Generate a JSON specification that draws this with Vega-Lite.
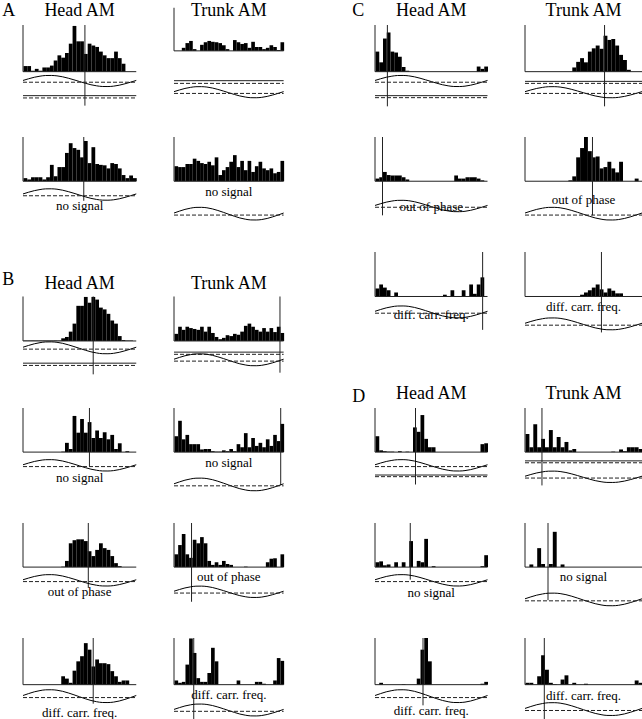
{
"$schema":"https://vega.github.io/schema/vega-lite/v6.json",
"padding":{"left":2,"top":1,"right":0,"bottom":0},
"autosize":{"type":"pad"},
"data":{"values":[{}]},
"datasets":{
"sine":[{"x":0,"s":0.1},{"x":1.5,"s":0.4},{"x":3,"s":0.67},{"x":4.5,"s":0.86},{"x":6,"s":0.98},{"x":7.5,"s":0.99},{"x":9,"s":0.92},{"x":10.5,"s":0.75},{"x":12,"s":0.5},{"x":13.5,"s":0.21},{"x":15,"s":-0.1},{"x":16.5,"s":-0.4},{"x":18,"s":-0.67},{"x":19.5,"s":-0.86},{"x":21,"s":-0.98},{"x":22.5,"s":-0.99},{"x":24,"s":-0.92},{"x":25.5,"s":-0.75},{"x":27,"s":-0.5},{"x":28.5,"s":-0.21},{"x":30,"s":0.1}],
"h":[
{"c":"A1h","b":0,"n":12},{"c":"A1h","b":1,"n":12},{"c":"A1h","b":2,"n":2},{"c":"A1h","b":3,"n":6},{"c":"A1h","b":4,"n":2},{"c":"A1h","b":5,"n":9},{"c":"A1h","b":6,"n":9},{"c":"A1h","b":7,"n":13},{"c":"A1h","b":8,"n":24},{"c":"A1h","b":9,"n":35},{"c":"A1h","b":10,"n":30},{"c":"A1h","b":11,"n":40},{"c":"A1h","b":12,"n":60},{"c":"A1h","b":13,"n":98},{"c":"A1h","b":14,"n":65},{"c":"A1h","b":15,"n":65},{"c":"A1h","b":16,"n":38},{"c":"A1h","b":17,"n":60},{"c":"A1h","b":18,"n":56},{"c":"A1h","b":19,"n":53},{"c":"A1h","b":20,"n":43},{"c":"A1h","b":21,"n":35},{"c":"A1h","b":22,"n":29},{"c":"A1h","b":23,"n":29},{"c":"A1h","b":24,"n":43},{"c":"A1h","b":25,"n":29},{"c":"A1h","b":26,"n":17},
{"c":"A1t","b":2,"n":7},{"c":"A1t","b":3,"n":18},{"c":"A1t","b":4,"n":23},{"c":"A1t","b":5,"n":4},{"c":"A1t","b":7,"n":14},{"c":"A1t","b":8,"n":20},{"c":"A1t","b":9,"n":23},{"c":"A1t","b":10,"n":21},{"c":"A1t","b":11,"n":20},{"c":"A1t","b":12,"n":18},{"c":"A1t","b":13,"n":13},{"c":"A1t","b":14,"n":4},{"c":"A1t","b":16,"n":25},{"c":"A1t","b":17,"n":20},{"c":"A1t","b":18,"n":16},{"c":"A1t","b":19,"n":18},{"c":"A1t","b":20,"n":7},{"c":"A1t","b":21,"n":21},{"c":"A1t","b":22,"n":9},{"c":"A1t","b":23,"n":9},{"c":"A1t","b":24,"n":4},{"c":"A1t","b":25,"n":7},{"c":"A1t","b":26,"n":13},{"c":"A1t","b":27,"n":9},{"c":"A1t","b":28,"n":2},{"c":"A1t","b":29,"n":20},
{"c":"A2h","b":0,"n":7},{"c":"A2h","b":1,"n":4},{"c":"A2h","b":2,"n":9},{"c":"A2h","b":3,"n":9},{"c":"A2h","b":4,"n":9},{"c":"A2h","b":5,"n":4},{"c":"A2h","b":6,"n":9},{"c":"A2h","b":7,"n":37},{"c":"A2h","b":8,"n":11},{"c":"A2h","b":9,"n":32},{"c":"A2h","b":10,"n":32},{"c":"A2h","b":11,"n":64},{"c":"A2h","b":12,"n":86},{"c":"A2h","b":13,"n":75},{"c":"A2h","b":14,"n":71},{"c":"A2h","b":15,"n":54},{"c":"A2h","b":16,"n":91},{"c":"A2h","b":17,"n":41},{"c":"A2h","b":18,"n":77},{"c":"A2h","b":19,"n":39},{"c":"A2h","b":20,"n":37},{"c":"A2h","b":21,"n":36},{"c":"A2h","b":22,"n":29},{"c":"A2h","b":23,"n":41},{"c":"A2h","b":24,"n":39},{"c":"A2h","b":25,"n":29},{"c":"A2h","b":26,"n":14},{"c":"A2h","b":27,"n":7},{"c":"A2h","b":28,"n":13},{"c":"A2h","b":29,"n":7},
{"c":"A2t","b":0,"n":34},{"c":"A2t","b":1,"n":32},{"c":"A2t","b":2,"n":32},{"c":"A2t","b":3,"n":39},{"c":"A2t","b":4,"n":39},{"c":"A2t","b":5,"n":51},{"c":"A2t","b":6,"n":46},{"c":"A2t","b":7,"n":41},{"c":"A2t","b":8,"n":39},{"c":"A2t","b":9,"n":44},{"c":"A2t","b":10,"n":36},{"c":"A2t","b":11,"n":54},{"c":"A2t","b":12,"n":14},{"c":"A2t","b":13,"n":25},{"c":"A2t","b":14,"n":32},{"c":"A2t","b":15,"n":44},{"c":"A2t","b":16,"n":59},{"c":"A2t","b":17,"n":32},{"c":"A2t","b":18,"n":46},{"c":"A2t","b":19,"n":25},{"c":"A2t","b":20,"n":46},{"c":"A2t","b":21,"n":21},{"c":"A2t","b":22,"n":34},{"c":"A2t","b":23,"n":44},{"c":"A2t","b":24,"n":29},{"c":"A2t","b":25,"n":25},{"c":"A2t","b":26,"n":29},{"c":"A2t","b":27,"n":18},{"c":"A2t","b":28,"n":21},{"c":"A2t","b":29,"n":46},
{"c":"B1h","b":0,"n":1},{"c":"B1h","b":1,"n":1},{"c":"B1h","b":2,"n":1},{"c":"B1h","b":3,"n":1},{"c":"B1h","b":4,"n":1},{"c":"B1h","b":5,"n":1},{"c":"B1h","b":6,"n":1},{"c":"B1h","b":7,"n":1},{"c":"B1h","b":8,"n":1},{"c":"B1h","b":9,"n":1},{"c":"B1h","b":10,"n":6},{"c":"B1h","b":11,"n":9},{"c":"B1h","b":12,"n":21},{"c":"B1h","b":13,"n":39},{"c":"B1h","b":14,"n":79},{"c":"B1h","b":15,"n":79},{"c":"B1h","b":16,"n":99},{"c":"B1h","b":17,"n":86},{"c":"B1h","b":18,"n":99},{"c":"B1h","b":19,"n":93},{"c":"B1h","b":20,"n":75},{"c":"B1h","b":21,"n":71},{"c":"B1h","b":22,"n":61},{"c":"B1h","b":23,"n":46},{"c":"B1h","b":24,"n":39},{"c":"B1h","b":25,"n":11},{"c":"B1h","b":26,"n":2},{"c":"B1h","b":27,"n":1},{"c":"B1h","b":28,"n":1},
{"c":"B1t","b":0,"n":16},{"c":"B1t","b":1,"n":32},{"c":"B1t","b":2,"n":25},{"c":"B1t","b":3,"n":32},{"c":"B1t","b":4,"n":29},{"c":"B1t","b":5,"n":27},{"c":"B1t","b":6,"n":25},{"c":"B1t","b":7,"n":32},{"c":"B1t","b":8,"n":21},{"c":"B1t","b":9,"n":32},{"c":"B1t","b":10,"n":18},{"c":"B1t","b":11,"n":9},{"c":"B1t","b":12,"n":4},{"c":"B1t","b":13,"n":7},{"c":"B1t","b":14,"n":13},{"c":"B1t","b":15,"n":11},{"c":"B1t","b":16,"n":16},{"c":"B1t","b":17,"n":14},{"c":"B1t","b":18,"n":21},{"c":"B1t","b":19,"n":34},{"c":"B1t","b":20,"n":39},{"c":"B1t","b":21,"n":32},{"c":"B1t","b":22,"n":25},{"c":"B1t","b":23,"n":21},{"c":"B1t","b":24,"n":29},{"c":"B1t","b":25,"n":21},{"c":"B1t","b":26,"n":29},{"c":"B1t","b":27,"n":20},{"c":"B1t","b":28,"n":32},{"c":"B1t","b":29,"n":18},
{"c":"B2h","b":10,"n":1},{"c":"B2h","b":11,"n":21},{"c":"B2h","b":12,"n":7},{"c":"B2h","b":13,"n":82},{"c":"B2h","b":14,"n":44},{"c":"B2h","b":15,"n":75},{"c":"B2h","b":16,"n":44},{"c":"B2h","b":17,"n":68},{"c":"B2h","b":18,"n":32},{"c":"B2h","b":19,"n":49},{"c":"B2h","b":20,"n":32},{"c":"B2h","b":21,"n":45},{"c":"B2h","b":22,"n":29},{"c":"B2h","b":23,"n":39},{"c":"B2h","b":24,"n":7},{"c":"B2h","b":25,"n":20},{"c":"B2h","b":27,"n":2},
{"c":"B2t","b":0,"n":36},{"c":"B2t","b":1,"n":71},{"c":"B2t","b":2,"n":29},{"c":"B2t","b":3,"n":39},{"c":"B2t","b":4,"n":18},{"c":"B2t","b":5,"n":18},{"c":"B2t","b":6,"n":18},{"c":"B2t","b":7,"n":6},{"c":"B2t","b":8,"n":7},{"c":"B2t","b":9,"n":7},{"c":"B2t","b":10,"n":2},{"c":"B2t","b":11,"n":1},{"c":"B2t","b":12,"n":1},{"c":"B2t","b":13,"n":4},{"c":"B2t","b":14,"n":2},{"c":"B2t","b":15,"n":7},{"c":"B2t","b":16,"n":2},{"c":"B2t","b":17,"n":18},{"c":"B2t","b":18,"n":11},{"c":"B2t","b":19,"n":43},{"c":"B2t","b":20,"n":11},{"c":"B2t","b":21,"n":32},{"c":"B2t","b":22,"n":14},{"c":"B2t","b":23,"n":21},{"c":"B2t","b":24,"n":11},{"c":"B2t","b":25,"n":29},{"c":"B2t","b":26,"n":14},{"c":"B2t","b":27,"n":39},{"c":"B2t","b":28,"n":25},{"c":"B2t","b":29,"n":64},
{"c":"B3h","b":10,"n":1},{"c":"B3h","b":11,"n":14},{"c":"B3h","b":12,"n":54},{"c":"B3h","b":13,"n":61},{"c":"B3h","b":14,"n":63},{"c":"B3h","b":15,"n":63},{"c":"B3h","b":16,"n":59},{"c":"B3h","b":17,"n":36},{"c":"B3h","b":18,"n":25},{"c":"B3h","b":19,"n":39},{"c":"B3h","b":20,"n":54},{"c":"B3h","b":21,"n":43},{"c":"B3h","b":22,"n":39},{"c":"B3h","b":23,"n":25},{"c":"B3h","b":24,"n":9},{"c":"B3h","b":25,"n":2},
{"c":"B3t","b":0,"n":29},{"c":"B3t","b":1,"n":50},{"c":"B3t","b":2,"n":75},{"c":"B3t","b":3,"n":29},{"c":"B3t","b":4,"n":21},{"c":"B3t","b":5,"n":62},{"c":"B3t","b":6,"n":54},{"c":"B3t","b":7,"n":68},{"c":"B3t","b":8,"n":54},{"c":"B3t","b":9,"n":14},{"c":"B3t","b":10,"n":5},{"c":"B3t","b":11,"n":11},{"c":"B3t","b":12,"n":5},{"c":"B3t","b":13,"n":14},{"c":"B3t","b":14,"n":7},{"c":"B3t","b":15,"n":5},{"c":"B3t","b":19,"n":1},{"c":"B3t","b":25,"n":11},{"c":"B3t","b":26,"n":19},{"c":"B3t","b":27,"n":20},{"c":"B3t","b":29,"n":29},
{"c":"B4h","b":10,"n":18},{"c":"B4h","b":11,"n":13},{"c":"B4h","b":12,"n":4},{"c":"B4h","b":13,"n":30},{"c":"B4h","b":14,"n":50},{"c":"B4h","b":15,"n":61},{"c":"B4h","b":16,"n":89},{"c":"B4h","b":17,"n":75},{"c":"B4h","b":18,"n":39},{"c":"B4h","b":19,"n":54},{"c":"B4h","b":20,"n":46},{"c":"B4h","b":21,"n":46},{"c":"B4h","b":22,"n":44},{"c":"B4h","b":23,"n":29},{"c":"B4h","b":24,"n":18},{"c":"B4h","b":25,"n":6},{"c":"B4h","b":26,"n":9},{"c":"B4h","b":27,"n":9},
{"c":"B4t","b":0,"n":9},{"c":"B4t","b":1,"n":4},{"c":"B4t","b":2,"n":6},{"c":"B4t","b":3,"n":43},{"c":"B4t","b":4,"n":99},{"c":"B4t","b":5,"n":68},{"c":"B4t","b":6,"n":14},{"c":"B4t","b":7,"n":6},{"c":"B4t","b":8,"n":6},{"c":"B4t","b":9,"n":25},{"c":"B4t","b":10,"n":79},{"c":"B4t","b":11,"n":50},{"c":"B4t","b":17,"n":9},{"c":"B4t","b":22,"n":6},{"c":"B4t","b":23,"n":6},{"c":"B4t","b":24,"n":2},{"c":"B4t","b":27,"n":9},{"c":"B4t","b":28,"n":57},{"c":"B4t","b":29,"n":51},
{"c":"C1h","b":0,"n":43},{"c":"C1h","b":1,"n":20},{"c":"C1h","b":2,"n":71},{"c":"C1h","b":3,"n":84},{"c":"C1h","b":4,"n":43},{"c":"C1h","b":5,"n":41},{"c":"C1h","b":6,"n":32},{"c":"C1h","b":7,"n":10},{"c":"C1h","b":8,"n":2},{"c":"C1h","b":27,"n":11},{"c":"C1h","b":28,"n":6},{"c":"C1h","b":29,"n":11},
{"c":"C1t","b":12,"n":9},{"c":"C1t","b":13,"n":21},{"c":"C1t","b":14,"n":29},{"c":"C1t","b":15,"n":20},{"c":"C1t","b":16,"n":43},{"c":"C1t","b":17,"n":50},{"c":"C1t","b":18,"n":56},{"c":"C1t","b":19,"n":49},{"c":"C1t","b":20,"n":77},{"c":"C1t","b":21,"n":68},{"c":"C1t","b":22,"n":70},{"c":"C1t","b":23,"n":56},{"c":"C1t","b":24,"n":36},{"c":"C1t","b":25,"n":25},{"c":"C1t","b":26,"n":4},
{"c":"C2h","b":0,"n":6},{"c":"C2h","b":1,"n":9},{"c":"C2h","b":2,"n":21},{"c":"C2h","b":3,"n":14},{"c":"C2h","b":4,"n":13},{"c":"C2h","b":5,"n":13},{"c":"C2h","b":6,"n":13},{"c":"C2h","b":7,"n":9},{"c":"C2h","b":8,"n":4},{"c":"C2h","b":21,"n":13},{"c":"C2h","b":22,"n":6},{"c":"C2h","b":23,"n":6},{"c":"C2h","b":24,"n":9},{"c":"C2h","b":25,"n":9},{"c":"C2h","b":26,"n":9},{"c":"C2h","b":27,"n":6},{"c":"C2h","b":28,"n":2},
{"c":"C2t","b":11,"n":2},{"c":"C2t","b":12,"n":11},{"c":"C2t","b":13,"n":54},{"c":"C2t","b":14,"n":75},{"c":"C2t","b":15,"n":100},{"c":"C2t","b":16,"n":68},{"c":"C2t","b":17,"n":54},{"c":"C2t","b":18,"n":56},{"c":"C2t","b":19,"n":29},{"c":"C2t","b":20,"n":32},{"c":"C2t","b":21,"n":44},{"c":"C2t","b":22,"n":29},{"c":"C2t","b":23,"n":20},{"c":"C2t","b":24,"n":44},{"c":"C2t","b":28,"n":6},
{"c":"C3h","b":0,"n":18},{"c":"C3h","b":1,"n":27},{"c":"C3h","b":2,"n":20},{"c":"C3h","b":3,"n":14},{"c":"C3h","b":5,"n":9},{"c":"C3h","b":18,"n":4},{"c":"C3h","b":20,"n":14},{"c":"C3h","b":23,"n":14},{"c":"C3h","b":25,"n":27},{"c":"C3h","b":26,"n":6},{"c":"C3h","b":27,"n":27},{"c":"C3h","b":28,"n":43},
{"c":"C3t","b":14,"n":4},{"c":"C3t","b":15,"n":9},{"c":"C3t","b":16,"n":14},{"c":"C3t","b":17,"n":20},{"c":"C3t","b":18,"n":27},{"c":"C3t","b":19,"n":16},{"c":"C3t","b":20,"n":9},{"c":"C3t","b":21,"n":18},{"c":"C3t","b":22,"n":13},{"c":"C3t","b":23,"n":7},{"c":"C3t","b":24,"n":7},
{"c":"D1h","b":0,"n":36},{"c":"D1h","b":1,"n":4},{"c":"D1h","b":2,"n":2},{"c":"D1h","b":3,"n":1},{"c":"D1h","b":4,"n":1},{"c":"D1h","b":6,"n":2},{"c":"D1h","b":8,"n":1},{"c":"D1h","b":10,"n":56},{"c":"D1h","b":11,"n":46},{"c":"D1h","b":12,"n":84},{"c":"D1h","b":13,"n":30},{"c":"D1h","b":14,"n":11},{"c":"D1h","b":15,"n":11},{"c":"D1h","b":28,"n":18},{"c":"D1h","b":29,"n":20},
{"c":"D1t","b":0,"n":41},{"c":"D1t","b":1,"n":11},{"c":"D1t","b":2,"n":63},{"c":"D1t","b":3,"n":11},{"c":"D1t","b":4,"n":30},{"c":"D1t","b":5,"n":11},{"c":"D1t","b":6,"n":50},{"c":"D1t","b":7,"n":11},{"c":"D1t","b":8,"n":34},{"c":"D1t","b":9,"n":11},{"c":"D1t","b":10,"n":23},{"c":"D1t","b":11,"n":4},{"c":"D1t","b":12,"n":7},{"c":"D1t","b":22,"n":1},{"c":"D1t","b":24,"n":6},{"c":"D1t","b":25,"n":2},{"c":"D1t","b":26,"n":11},{"c":"D1t","b":27,"n":11},{"c":"D1t","b":28,"n":11},{"c":"D1t","b":29,"n":7},
{"c":"D2h","b":0,"n":11},{"c":"D2h","b":1,"n":13},{"c":"D2h","b":2,"n":4},{"c":"D2h","b":3,"n":6},{"c":"D2h","b":5,"n":11},{"c":"D2h","b":7,"n":11},{"c":"D2h","b":9,"n":59},{"c":"D2h","b":11,"n":14},{"c":"D2h","b":12,"n":11},{"c":"D2h","b":13,"n":64},{"c":"D2h","b":15,"n":2},{"c":"D2h","b":28,"n":2},{"c":"D2h","b":29,"n":27},
{"c":"D2t","b":1,"n":6},{"c":"D2t","b":3,"n":43},{"c":"D2t","b":4,"n":7},{"c":"D2t","b":6,"n":7},{"c":"D2t","b":7,"n":80},{"c":"D2t","b":9,"n":6},
{"c":"D3h","b":1,"n":4},{"c":"D3h","b":7,"n":1},{"c":"D3h","b":11,"n":13},{"c":"D3h","b":12,"n":75},{"c":"D3h","b":13,"n":100},{"c":"D3h","b":14,"n":50},{"c":"D3h","b":28,"n":2},{"c":"D3h","b":29,"n":6},
{"c":"D3t","b":0,"n":4},{"c":"D3t","b":1,"n":4},{"c":"D3t","b":3,"n":18},{"c":"D3t","b":4,"n":63},{"c":"D3t","b":5,"n":32},{"c":"D3t","b":6,"n":4},{"c":"D3t","b":7,"n":1},{"c":"D3t","b":9,"n":11},{"c":"D3t","b":10,"n":20},{"c":"D3t","b":12,"n":4},{"c":"D3t","b":15,"n":2},{"c":"D3t","b":28,"n":9},{"c":"D3t","b":29,"n":4}
]},
"bounds":"flush",
"align":"each",
"spacing":0,
"columns":4,
"concat":[
{"width":151,"height":112,"layer":[{"layer":[
 {"data":{"name":"h"},"transform":[{"filter":"datum.c=='A1h'"}],"mark":"bar","encoding":{"x":{"field":"b","type":"quantitative","bin":{"binned":true,"step":1},"scale":{"domain":[0,38.72]},"axis":null},"y":{"field":"n","type":"quantitative","scale":{"domain":[-140,100]},"axis":null}}},
 {"mark":"rule","encoding":{"x":{"datum":0},"y":{"datum":0},"y2":{"datum":100}}},
 {"mark":"rule","encoding":{"x":{"datum":0},"x2":{"datum":30},"y":{"datum":0}}},
 {"mark":"rule","encoding":{"x":{"datum":16.4},"y":{"datum":100},"y2":{"datum":-72.8}}},
 {"mark":"rule","encoding":{"x":{"datum":0},"x2":{"datum":30},"y":{"datum":-51.4}}},
 {"mark":{"type":"rule","strokeDash":[4,2]},"encoding":{"x":{"datum":0},"x2":{"datum":30},"y":{"datum":-56.3}}},
 {"mark":{"type":"text","text":"Head AM","fontSize":18},"encoding":{"x":{"datum":15},"y":{"datum":119.3}}},
 {"mark":{"type":"text","text":"A","fontSize":18,"align":"left"},"encoding":{"x":{"datum":-5.5},"y":{"datum":119.3}}}]},
 {"layer":[{"data":{"name":"sine"},"mark":{"type":"line","interpolate":"monotone"},"encoding":{"x":{"field":"x","type":"quantitative"},"y":{"field":"s","type":"quantitative","scale":{"domain":[-8.03,8.69]},"axis":null}}},{"mark":{"type":"rule","strokeDash":[4,2]},"encoding":{"x":{"datum":0},"x2":{"datum":30},"y":{"datum":-0.22}}}]}
],"resolve":{"scale":{"y":"independent"}}},
{"width":201,"height":112,"layer":[
 {"layer":[
 {"data":{"name":"h"},"transform":[{"filter":"datum.c=='A1t'"}],"mark":"bar","encoding":{"x":{"field":"b","type":"quantitative","bin":{"binned":true,"step":1},"scale":{"domain":[0,51.54]},"axis":null},"y":{"field":"n","type":"quantitative","scale":{"domain":[-191.4,48.6]},"axis":null}}},
 {"mark":"rule","encoding":{"x":{"datum":0},"y":{"datum":0},"y2":{"datum":100}}},
 {"mark":"rule","encoding":{"x":{"datum":0},"x2":{"datum":30},"y":{"datum":0}}}]},
 {"layer":[
 {"mark":"rule","encoding":{"x":{"datum":0},"x2":{"datum":30},"y":{"datum":-19.3,"scale":{"domain":[-140,100]}}}},
 {"mark":{"type":"rule","strokeDash":[4,2]},"encoding":{"x":{"datum":0},"x2":{"datum":30},"y":{"datum":-25.1}}},
 {"mark":{"type":"text","text":"Trunk AM","fontSize":18},"encoding":{"x":{"datum":15},"y":{"datum":119.3}}}]},
 {"layer":[{"data":{"name":"sine"},"mark":{"type":"line","interpolate":"monotone"},"encoding":{"x":{"field":"x","type":"quantitative"},"y":{"field":"s","type":"quantitative","scale":{"domain":[-6.24,10.48]},"axis":null}}},{"mark":{"type":"rule","strokeDash":[4,2]},"encoding":{"x":{"datum":0},"x2":{"datum":30},"y":{"datum":-0.22}}}]}
],"resolve":{"scale":{"y":"independent"}}},
{"width":150,"height":112,"layer":[{"layer":[
 {"data":{"name":"h"},"transform":[{"filter":"datum.c=='C1h'"}],"mark":"bar","encoding":{"x":{"field":"b","type":"quantitative","bin":{"binned":true,"step":1},"scale":{"domain":[0,38.46]},"axis":null},"y":{"field":"n","type":"quantitative","scale":{"domain":[-140,100]},"axis":null}}},
 {"mark":"rule","encoding":{"x":{"datum":0},"y":{"datum":0},"y2":{"datum":100}}},
 {"mark":"rule","encoding":{"x":{"datum":0},"x2":{"datum":30},"y":{"datum":0}}},
 {"mark":"rule","encoding":{"x":{"datum":3.3},"y":{"datum":100},"y2":{"datum":-74.3}}},
 {"mark":"rule","encoding":{"x":{"datum":0},"x2":{"datum":30},"y":{"datum":-51.4}}},
 {"mark":{"type":"rule","strokeDash":[4,2]},"encoding":{"x":{"datum":0},"x2":{"datum":30},"y":{"datum":-55.7}}},
 {"mark":{"type":"text","text":"Head AM","fontSize":18},"encoding":{"x":{"datum":15},"y":{"datum":119.3}}},
 {"mark":{"type":"text","text":"C","fontSize":18,"align":"left"},"encoding":{"x":{"datum":-6.05},"y":{"datum":119.3}}}]},
 {"layer":[{"data":{"name":"sine"},"mark":{"type":"line","interpolate":"monotone"},"encoding":{"x":{"field":"x","type":"quantitative"},"y":{"field":"s","type":"quantitative","scale":{"domain":[-8.03,8.69]},"axis":null}}},{"mark":{"type":"rule","strokeDash":[4,2]},"encoding":{"x":{"datum":0},"x2":{"datum":30},"y":{"datum":-0.22}}}]}
],"resolve":{"scale":{"y":"independent"}}},
{"width":117,"height":112,"layer":[{"layer":[
 {"data":{"name":"h"},"transform":[{"filter":"datum.c=='C1t'"}],"mark":"bar","encoding":{"x":{"field":"b","type":"quantitative","bin":{"binned":true,"step":1},"scale":{"domain":[0,30]},"axis":null},"y":{"field":"n","type":"quantitative","scale":{"domain":[-140,100]},"axis":null}}},
 {"mark":"rule","encoding":{"x":{"datum":0},"y":{"datum":0},"y2":{"datum":100}}},
 {"mark":"rule","encoding":{"x":{"datum":0},"x2":{"datum":30},"y":{"datum":0}}},
 {"mark":"rule","encoding":{"x":{"datum":20.4},"y":{"datum":100},"y2":{"datum":-74.3}}},
 {"mark":"rule","encoding":{"x":{"datum":0},"x2":{"datum":30},"y":{"datum":-20.8}}},
 {"mark":{"type":"rule","strokeDash":[4,2]},"encoding":{"x":{"datum":0},"x2":{"datum":30},"y":{"datum":-25.1}}},
 {"mark":{"type":"text","text":"Trunk AM","fontSize":18},"encoding":{"x":{"datum":15},"y":{"datum":119.3}}}]},
 {"layer":[{"data":{"name":"sine"},"mark":{"type":"line","interpolate":"monotone"},"encoding":{"x":{"field":"x","type":"quantitative"},"y":{"field":"s","type":"quantitative","scale":{"domain":[-6.13,10.58]},"axis":null}}},{"mark":{"type":"rule","strokeDash":[4,2]},"encoding":{"x":{"datum":0},"x2":{"datum":30},"y":{"datum":-0.22}}}]}
],"resolve":{"scale":{"y":"independent"}}},

{"width":151,"height":115,"layer":[{"layer":[
 {"data":{"name":"h"},"transform":[{"filter":"datum.c=='A2h'"}],"mark":"bar","encoding":{"x":{"field":"b","type":"quantitative","bin":{"binned":true,"step":1},"scale":{"domain":[0,38.72]},"axis":null},"y":{"field":"n","type":"quantitative","scale":{"domain":[-146.4,100]},"axis":null}}},
 {"mark":"rule","encoding":{"x":{"datum":0},"y":{"datum":0},"y2":{"datum":100}}},
 {"mark":"rule","encoding":{"x":{"datum":0},"x2":{"datum":30},"y":{"datum":0}}},
 {"mark":"rule","encoding":{"x":{"datum":16.1},"y":{"datum":100},"y2":{"datum":-44.3}}},
 {"mark":{"type":"text","text":"no signal"},"encoding":{"x":{"datum":15},"y":{"datum":-65.8}}}]},
 {"layer":[{"data":{"name":"sine"},"mark":{"type":"line","interpolate":"monotone"},"encoding":{"x":{"field":"x","type":"quantitative"},"y":{"field":"s","type":"quantitative","scale":{"domain":[-8.33,8.84]},"axis":null}}},{"mark":{"type":"rule","strokeDash":[4,2]},"encoding":{"x":{"datum":0},"x2":{"datum":30},"y":{"datum":-0.22}}}]}
],"resolve":{"scale":{"y":"independent"}}},
{"width":201,"height":115,"layer":[{"layer":[
 {"data":{"name":"h"},"transform":[{"filter":"datum.c=='A2t'"}],"mark":"bar","encoding":{"x":{"field":"b","type":"quantitative","bin":{"binned":true,"step":1},"scale":{"domain":[0,51.54]},"axis":null},"y":{"field":"n","type":"quantitative","scale":{"domain":[-146.4,100]},"axis":null}}},
 {"mark":"rule","encoding":{"x":{"datum":0},"y":{"datum":0},"y2":{"datum":100}}},
 {"mark":"rule","encoding":{"x":{"datum":0},"x2":{"datum":30},"y":{"datum":0}}},
 {"mark":{"type":"text","text":"no signal"},"encoding":{"x":{"datum":15},"y":{"datum":-33.6}}}]},
 {"layer":[{"data":{"name":"sine"},"mark":{"type":"line","interpolate":"monotone"},"encoding":{"x":{"field":"x","type":"quantitative"},"y":{"field":"s","type":"quantitative","scale":{"domain":[-5.94,11.22]},"axis":null}}},{"mark":{"type":"rule","strokeDash":[4,2]},"encoding":{"x":{"datum":0},"x2":{"datum":30},"y":{"datum":-0.22}}}]}
],"resolve":{"scale":{"y":"independent"}}},
{"width":150,"height":115,"layer":[{"layer":[
 {"data":{"name":"h"},"transform":[{"filter":"datum.c=='C2h'"}],"mark":"bar","encoding":{"x":{"field":"b","type":"quantitative","bin":{"binned":true,"step":1},"scale":{"domain":[0,38.46]},"axis":null},"y":{"field":"n","type":"quantitative","scale":{"domain":[-146.4,100]},"axis":null}}},
 {"mark":"rule","encoding":{"x":{"datum":0},"y":{"datum":0},"y2":{"datum":100}}},
 {"mark":"rule","encoding":{"x":{"datum":0},"x2":{"datum":30},"y":{"datum":0}}},
 {"mark":"rule","encoding":{"x":{"datum":2},"y":{"datum":100},"y2":{"datum":-77.1}}},
 {"mark":{"type":"text","text":"out of phase"},"encoding":{"x":{"datum":15},"y":{"datum":-66.4}}}]},
 {"layer":[{"data":{"name":"sine"},"mark":{"type":"line","interpolate":"monotone"},"encoding":{"x":{"field":"x","type":"quantitative"},"y":{"field":"s","type":"quantitative","scale":{"domain":[-7.03,10.13]},"axis":null}}},{"mark":{"type":"rule","strokeDash":[4,2]},"encoding":{"x":{"datum":0},"x2":{"datum":30},"y":{"datum":-0.22}}}]}
],"resolve":{"scale":{"y":"independent"}}},
{"width":117,"height":115,"layer":[{"layer":[
 {"data":{"name":"h"},"transform":[{"filter":"datum.c=='C2t'"}],"mark":"bar","encoding":{"x":{"field":"b","type":"quantitative","bin":{"binned":true,"step":1},"scale":{"domain":[0,30]},"axis":null},"y":{"field":"n","type":"quantitative","scale":{"domain":[-146.4,100]},"axis":null}}},
 {"mark":"rule","encoding":{"x":{"datum":0},"y":{"datum":0},"y2":{"datum":100}}},
 {"mark":"rule","encoding":{"x":{"datum":0},"x2":{"datum":30},"y":{"datum":0}}},
 {"mark":"rule","encoding":{"x":{"datum":17.3},"y":{"datum":100},"y2":{"datum":-77.1}}},
 {"mark":{"type":"text","text":"out of phase"},"encoding":{"x":{"datum":15},"y":{"datum":-51.4}}}]},
 {"layer":[{"data":{"name":"sine"},"mark":{"type":"line","interpolate":"monotone"},"encoding":{"x":{"field":"x","type":"quantitative"},"y":{"field":"s","type":"quantitative","scale":{"domain":[-5.79,11.37]},"axis":null}}},{"mark":{"type":"rule","strokeDash":[4,2]},"encoding":{"x":{"datum":0},"x2":{"datum":30},"y":{"datum":-0.22}}}]}
],"resolve":{"scale":{"y":"independent"}}},

{"width":151,"height":155.7,"layer":[{"layer":[
 {"data":{"name":"h"},"transform":[{"filter":"datum.c=='B1h'"}],"mark":"bar","encoding":{"x":{"field":"b","type":"quantitative","bin":{"binned":true,"step":1},"scale":{"domain":[0,38.72]},"axis":null},"y":{"field":"n","type":"quantitative","scale":{"domain":[-145.1,188.5]},"axis":null}}},
 {"mark":"rule","encoding":{"x":{"datum":0},"y":{"datum":0},"y2":{"datum":100}}},
 {"mark":"rule","encoding":{"x":{"datum":0},"x2":{"datum":30},"y":{"datum":0}}},
 {"mark":"rule","encoding":{"x":{"datum":18.6},"y":{"datum":100},"y2":{"datum":-75}}},
 {"mark":"rule","encoding":{"x":{"datum":0},"x2":{"datum":30},"y":{"datum":-49.9}}},
 {"mark":{"type":"rule","strokeDash":[4,2]},"encoding":{"x":{"datum":0},"x2":{"datum":30},"y":{"datum":-55}}},
 {"mark":{"type":"text","text":"Head AM","fontSize":18},"encoding":{"x":{"datum":15},"y":{"datum":117.1}}},
 {"mark":{"type":"text","text":"B","fontSize":18,"align":"left"},"encoding":{"x":{"datum":-5.5},"y":{"datum":126.3}}}]},
 {"layer":[{"data":{"name":"sine"},"mark":{"type":"line","interpolate":"monotone"},"encoding":{"x":{"field":"x","type":"quantitative"},"y":{"field":"s","type":"quantitative","scale":{"domain":[-8.34,14.90]},"axis":null}}},{"mark":{"type":"rule","strokeDash":[4,2]},"encoding":{"x":{"datum":0},"x2":{"datum":30},"y":{"datum":-0.22}}}]}
],"resolve":{"scale":{"y":"independent"}}},
{"width":201,"height":155.7,"layer":[{"layer":[
 {"data":{"name":"h"},"transform":[{"filter":"datum.c=='B1t'"}],"mark":"bar","encoding":{"x":{"field":"b","type":"quantitative","bin":{"binned":true,"step":1},"scale":{"domain":[0,51.54]},"axis":null},"y":{"field":"n","type":"quantitative","scale":{"domain":[-145.1,188.5]},"axis":null}}},
 {"mark":"rule","encoding":{"x":{"datum":0},"y":{"datum":0},"y2":{"datum":100}}},
 {"mark":"rule","encoding":{"x":{"datum":0},"x2":{"datum":30},"y":{"datum":0}}},
 {"mark":"rule","encoding":{"x":{"datum":29},"y":{"datum":100},"y2":{"datum":-71.3}}},
 {"mark":"rule","encoding":{"x":{"datum":0},"x2":{"datum":30},"y":{"datum":-25.1}}},
 {"mark":{"type":"rule","strokeDash":[4,2]},"encoding":{"x":{"datum":0},"x2":{"datum":30},"y":{"datum":-30}}},
 {"mark":{"type":"text","text":"Trunk AM","fontSize":18},"encoding":{"x":{"datum":15},"y":{"datum":117.1}}}]},
 {"layer":[{"data":{"name":"sine"},"mark":{"type":"line","interpolate":"monotone"},"encoding":{"x":{"field":"x","type":"quantitative"},"y":{"field":"s","type":"quantitative","scale":{"domain":[-6.34,16.90]},"axis":null}}},{"mark":{"type":"rule","strokeDash":[4,2]},"encoding":{"x":{"datum":0},"x2":{"datum":30},"y":{"datum":-0.22}}}]}
],"resolve":{"scale":{"y":"independent"}}},
{"width":150,"height":155.7,"layer":[{"layer":[
 {"data":{"name":"h"},"transform":[{"filter":"datum.c=='C3h'"}],"mark":"bar","encoding":{"x":{"field":"b","type":"quantitative","bin":{"binned":true,"step":1},"scale":{"domain":[0,38.46]},"axis":null},"y":{"field":"n","type":"quantitative","scale":{"domain":[-233.6,100]},"axis":null}}},
 {"mark":"rule","encoding":{"x":{"datum":0},"y":{"datum":0},"y2":{"datum":100}}},
 {"mark":"rule","encoding":{"x":{"datum":0},"x2":{"datum":30},"y":{"datum":0}}},
 {"mark":"rule","encoding":{"x":{"datum":28.7},"y":{"datum":100},"y2":{"datum":-75}}},
 {"mark":{"type":"text","text":"diff. carr. freq."},"encoding":{"x":{"datum":15},"y":{"datum":-50.3}}}]},
 {"layer":[{"data":{"name":"sine"},"mark":{"type":"line","interpolate":"monotone"},"encoding":{"x":{"field":"x","type":"quantitative"},"y":{"field":"s","type":"quantitative","scale":{"domain":[-14.66,8.58]},"axis":null}}},{"mark":{"type":"rule","strokeDash":[4,2]},"encoding":{"x":{"datum":0},"x2":{"datum":30},"y":{"datum":-0.22}}}]}
],"resolve":{"scale":{"y":"independent"}}},
{"width":117,"height":155.7,"layer":[{"layer":[
 {"data":{"name":"h"},"transform":[{"filter":"datum.c=='C3t'"}],"mark":"bar","encoding":{"x":{"field":"b","type":"quantitative","bin":{"binned":true,"step":1},"scale":{"domain":[0,30]},"axis":null},"y":{"field":"n","type":"quantitative","scale":{"domain":[-233.6,100]},"axis":null}}},
 {"mark":"rule","encoding":{"x":{"datum":0},"y":{"datum":0},"y2":{"datum":100}}},
 {"mark":"rule","encoding":{"x":{"datum":0},"x2":{"datum":30},"y":{"datum":0}}},
 {"mark":"rule","encoding":{"x":{"datum":19.6},"y":{"datum":100},"y2":{"datum":-80.8}}},
 {"mark":{"type":"text","text":"diff. carr. freq."},"encoding":{"x":{"datum":15},"y":{"datum":-32.1}}}]},
 {"layer":[{"data":{"name":"sine"},"mark":{"type":"line","interpolate":"monotone"},"encoding":{"x":{"field":"x","type":"quantitative"},"y":{"field":"s","type":"quantitative","scale":{"domain":[-12.16,11.07]},"axis":null}}},{"mark":{"type":"rule","strokeDash":[4,2]},"encoding":{"x":{"datum":0},"x2":{"datum":30},"y":{"datum":-0.22}}}]}
],"resolve":{"scale":{"y":"independent"}}},

{"width":151,"height":114.65,"layer":[{"layer":[
 {"data":{"name":"h"},"transform":[{"filter":"datum.c=='B2h'"}],"mark":"bar","encoding":{"x":{"field":"b","type":"quantitative","bin":{"binned":true,"step":1},"scale":{"domain":[0,38.72]},"axis":null},"y":{"field":"n","type":"quantitative","scale":{"domain":[-145.7,100]},"axis":null}}},
 {"mark":"rule","encoding":{"x":{"datum":0},"y":{"datum":0},"y2":{"datum":100}}},
 {"mark":"rule","encoding":{"x":{"datum":0},"x2":{"datum":30},"y":{"datum":0}}},
 {"mark":"rule","encoding":{"x":{"datum":17.6},"y":{"datum":100},"y2":{"datum":-32.1}}},
 {"mark":{"type":"text","text":"no signal"},"encoding":{"x":{"datum":15},"y":{"datum":-67.9}}}]},
 {"layer":[{"data":{"name":"sine"},"mark":{"type":"line","interpolate":"monotone"},"encoding":{"x":{"field":"x","type":"quantitative"},"y":{"field":"s","type":"quantitative","scale":{"domain":[-8.38,8.73]},"axis":null}}},{"mark":{"type":"rule","strokeDash":[4,2]},"encoding":{"x":{"datum":0},"x2":{"datum":30},"y":{"datum":-0.22}}}]}
],"resolve":{"scale":{"y":"independent"}}},
{"width":201,"height":114.65,"layer":[{"layer":[
 {"data":{"name":"h"},"transform":[{"filter":"datum.c=='B2t'"}],"mark":"bar","encoding":{"x":{"field":"b","type":"quantitative","bin":{"binned":true,"step":1},"scale":{"domain":[0,51.54]},"axis":null},"y":{"field":"n","type":"quantitative","scale":{"domain":[-145.7,100]},"axis":null}}},
 {"mark":"rule","encoding":{"x":{"datum":0},"y":{"datum":0},"y2":{"datum":100}}},
 {"mark":"rule","encoding":{"x":{"datum":0},"x2":{"datum":30},"y":{"datum":0}}},
 {"mark":"rule","encoding":{"x":{"datum":29.2},"y":{"datum":100},"y2":{"datum":-75}}},
 {"mark":{"type":"text","text":"no signal"},"encoding":{"x":{"datum":15},"y":{"datum":-33.6}}}]},
 {"layer":[{"data":{"name":"sine"},"mark":{"type":"line","interpolate":"monotone"},"encoding":{"x":{"field":"x","type":"quantitative"},"y":{"field":"s","type":"quantitative","scale":{"domain":[-5.98,11.13]},"axis":null}}},{"mark":{"type":"rule","strokeDash":[4,2]},"encoding":{"x":{"datum":0},"x2":{"datum":30},"y":{"datum":-0.22}}}]}
],"resolve":{"scale":{"y":"independent"}}},
{"width":150,"height":114.65,"layer":[{"layer":[
 {"data":{"name":"h"},"transform":[{"filter":"datum.c=='D1h'"}],"mark":"bar","encoding":{"x":{"field":"b","type":"quantitative","bin":{"binned":true,"step":1},"scale":{"domain":[0,38.46]},"axis":null},"y":{"field":"n","type":"quantitative","scale":{"domain":[-145.7,100]},"axis":null}}},
 {"mark":"rule","encoding":{"x":{"datum":0},"y":{"datum":0},"y2":{"datum":100}}},
 {"mark":"rule","encoding":{"x":{"datum":0},"x2":{"datum":30},"y":{"datum":0}}},
 {"mark":"rule","encoding":{"x":{"datum":10.8},"y":{"datum":100},"y2":{"datum":-73.5}}},
 {"mark":"rule","encoding":{"x":{"datum":0},"x2":{"datum":30},"y":{"datum":-52}}},
 {"mark":{"type":"rule","strokeDash":[4,2]},"encoding":{"x":{"datum":0},"x2":{"datum":30},"y":{"datum":-55.7}}},
 {"mark":{"type":"text","text":"Head AM","fontSize":18},"encoding":{"x":{"datum":15},"y":{"datum":120.1}}},
 {"mark":{"type":"text","text":"D","fontSize":18,"align":"left"},"encoding":{"x":{"datum":-6.05},"y":{"datum":114.4}}}]},
 {"layer":[{"data":{"name":"sine"},"mark":{"type":"line","interpolate":"monotone"},"encoding":{"x":{"field":"x","type":"quantitative"},"y":{"field":"s","type":"quantitative","scale":{"domain":[-8.38,8.73]},"axis":null}}},{"mark":{"type":"rule","strokeDash":[4,2]},"encoding":{"x":{"datum":0},"x2":{"datum":30},"y":{"datum":-0.22}}}]}
],"resolve":{"scale":{"y":"independent"}}},
{"width":117,"height":114.65,"layer":[{"layer":[
 {"data":{"name":"h"},"transform":[{"filter":"datum.c=='D1t'"}],"mark":"bar","encoding":{"x":{"field":"b","type":"quantitative","bin":{"binned":true,"step":1},"scale":{"domain":[0,30]},"axis":null},"y":{"field":"n","type":"quantitative","scale":{"domain":[-145.7,100]},"axis":null}}},
 {"mark":"rule","encoding":{"x":{"datum":0},"y":{"datum":0},"y2":{"datum":100}}},
 {"mark":"rule","encoding":{"x":{"datum":0},"x2":{"datum":30},"y":{"datum":0}}},
 {"mark":"rule","encoding":{"x":{"datum":4.35},"y":{"datum":100},"y2":{"datum":-75.6}}},
 {"mark":"rule","encoding":{"x":{"datum":0},"x2":{"datum":30},"y":{"datum":-19.9}}},
 {"mark":{"type":"rule","strokeDash":[4,2]},"encoding":{"x":{"datum":0},"x2":{"datum":30},"y":{"datum":-24.2}}},
 {"mark":{"type":"text","text":"Trunk AM","fontSize":18},"encoding":{"x":{"datum":15},"y":{"datum":120.1}}}]},
 {"layer":[{"data":{"name":"sine"},"mark":{"type":"line","interpolate":"monotone"},"encoding":{"x":{"field":"x","type":"quantitative"},"y":{"field":"s","type":"quantitative","scale":{"domain":[-6.59,10.52]},"axis":null}}},{"mark":{"type":"rule","strokeDash":[4,2]},"encoding":{"x":{"datum":0},"x2":{"datum":30},"y":{"datum":-0.22}}}]}
],"resolve":{"scale":{"y":"independent"}}},

{"width":151,"height":114.65,"layer":[{"layer":[
 {"data":{"name":"h"},"transform":[{"filter":"datum.c=='B3h'"}],"mark":"bar","encoding":{"x":{"field":"b","type":"quantitative","bin":{"binned":true,"step":1},"scale":{"domain":[0,38.72]},"axis":null},"y":{"field":"n","type":"quantitative","scale":{"domain":[-145.7,100]},"axis":null}}},
 {"mark":"rule","encoding":{"x":{"datum":0},"y":{"datum":0},"y2":{"datum":100}}},
 {"mark":"rule","encoding":{"x":{"datum":0},"x2":{"datum":30},"y":{"datum":0}}},
 {"mark":"rule","encoding":{"x":{"datum":17.3},"y":{"datum":100},"y2":{"datum":-47.1}}},
 {"mark":{"type":"text","text":"out of phase"},"encoding":{"x":{"datum":15},"y":{"datum":-66.4}}}]},
 {"layer":[{"data":{"name":"sine"},"mark":{"type":"line","interpolate":"monotone"},"encoding":{"x":{"field":"x","type":"quantitative"},"y":{"field":"s","type":"quantitative","scale":{"domain":[-8.47,8.64]},"axis":null}}},{"mark":{"type":"rule","strokeDash":[4,2]},"encoding":{"x":{"datum":0},"x2":{"datum":30},"y":{"datum":-0.22}}}]}
],"resolve":{"scale":{"y":"independent"}}},
{"width":201,"height":114.65,"layer":[{"layer":[
 {"data":{"name":"h"},"transform":[{"filter":"datum.c=='B3t'"}],"mark":"bar","encoding":{"x":{"field":"b","type":"quantitative","bin":{"binned":true,"step":1},"scale":{"domain":[0,51.54]},"axis":null},"y":{"field":"n","type":"quantitative","scale":{"domain":[-145.7,100]},"axis":null}}},
 {"mark":"rule","encoding":{"x":{"datum":0},"y":{"datum":0},"y2":{"datum":100}}},
 {"mark":"rule","encoding":{"x":{"datum":0},"x2":{"datum":30},"y":{"datum":0}}},
 {"mark":"rule","encoding":{"x":{"datum":4.8},"y":{"datum":100},"y2":{"datum":-78.6}}},
 {"mark":{"type":"text","text":"out of phase"},"encoding":{"x":{"datum":15},"y":{"datum":-32.1}}}]},
 {"layer":[{"data":{"name":"sine"},"mark":{"type":"line","interpolate":"monotone"},"encoding":{"x":{"field":"x","type":"quantitative"},"y":{"field":"s","type":"quantitative","scale":{"domain":[-6.13,10.99]},"axis":null}}},{"mark":{"type":"rule","strokeDash":[4,2]},"encoding":{"x":{"datum":0},"x2":{"datum":30},"y":{"datum":-0.22}}}]}
],"resolve":{"scale":{"y":"independent"}}},
{"width":150,"height":114.65,"layer":[{"layer":[
 {"data":{"name":"h"},"transform":[{"filter":"datum.c=='D2h'"}],"mark":"bar","encoding":{"x":{"field":"b","type":"quantitative","bin":{"binned":true,"step":1},"scale":{"domain":[0,38.46]},"axis":null},"y":{"field":"n","type":"quantitative","scale":{"domain":[-145.7,100]},"axis":null}}},
 {"mark":"rule","encoding":{"x":{"datum":0},"y":{"datum":0},"y2":{"datum":100}}},
 {"mark":"rule","encoding":{"x":{"datum":0},"x2":{"datum":30},"y":{"datum":0}}},
 {"mark":"rule","encoding":{"x":{"datum":9.4},"y":{"datum":100},"y2":{"datum":-28.5}}},
 {"mark":{"type":"text","text":"no signal"},"encoding":{"x":{"datum":15},"y":{"datum":-67.9}}}]},
 {"layer":[{"data":{"name":"sine"},"mark":{"type":"line","interpolate":"monotone"},"encoding":{"x":{"field":"x","type":"quantitative"},"y":{"field":"s","type":"quantitative","scale":{"domain":[-8.47,8.64]},"axis":null}}},{"mark":{"type":"rule","strokeDash":[4,2]},"encoding":{"x":{"datum":0},"x2":{"datum":30},"y":{"datum":-0.22}}}]}
],"resolve":{"scale":{"y":"independent"}}},
{"width":117,"height":114.65,"layer":[{"layer":[
 {"data":{"name":"h"},"transform":[{"filter":"datum.c=='D2t'"}],"mark":"bar","encoding":{"x":{"field":"b","type":"quantitative","bin":{"binned":true,"step":1},"scale":{"domain":[0,30]},"axis":null},"y":{"field":"n","type":"quantitative","scale":{"domain":[-145.7,100]},"axis":null}}},
 {"mark":"rule","encoding":{"x":{"datum":0},"y":{"datum":0},"y2":{"datum":100}}},
 {"mark":"rule","encoding":{"x":{"datum":0},"x2":{"datum":30},"y":{"datum":0}}},
 {"mark":"rule","encoding":{"x":{"datum":5.9},"y":{"datum":100},"y2":{"datum":-75}}},
 {"mark":{"type":"text","text":"no signal"},"encoding":{"x":{"datum":15},"y":{"datum":-32.1}}}]},
 {"layer":[{"data":{"name":"sine"},"mark":{"type":"line","interpolate":"monotone"},"encoding":{"x":{"field":"x","type":"quantitative"},"y":{"field":"s","type":"quantitative","scale":{"domain":[-5.99,11.12]},"axis":null}}},{"mark":{"type":"rule","strokeDash":[4,2]},"encoding":{"x":{"datum":0},"x2":{"datum":30},"y":{"datum":-0.22}}}]}
],"resolve":{"scale":{"y":"independent"}}},

{"width":151,"height":84,"layer":[{"layer":[
 {"data":{"name":"h"},"transform":[{"filter":"datum.c=='B4h'"}],"mark":"bar","encoding":{"x":{"field":"b","type":"quantitative","bin":{"binned":true,"step":1},"scale":{"domain":[0,38.72]},"axis":null},"y":{"field":"n","type":"quantitative","scale":{"domain":[-80,100]},"axis":null}}},
 {"mark":"rule","encoding":{"x":{"datum":0},"y":{"datum":0},"y2":{"datum":100}}},
 {"mark":"rule","encoding":{"x":{"datum":0},"x2":{"datum":30},"y":{"datum":0}}},
 {"mark":"rule","encoding":{"x":{"datum":18.6},"y":{"datum":100},"y2":{"datum":-40.7}}},
 {"mark":{"type":"text","text":"diff. carr. freq."},"encoding":{"x":{"datum":15},"y":{"datum":-69.2}}}]},
 {"layer":[{"data":{"name":"sine"},"mark":{"type":"line","interpolate":"monotone"},"encoding":{"x":{"field":"x","type":"quantitative"},"y":{"field":"s","type":"quantitative","scale":{"domain":[-3.81,8.73]},"axis":null}}},{"mark":{"type":"rule","strokeDash":[4,2]},"encoding":{"x":{"datum":0},"x2":{"datum":30},"y":{"datum":-0.22}}}]}
],"resolve":{"scale":{"y":"independent"}}},
{"width":201,"height":84,"layer":[{"layer":[
 {"data":{"name":"h"},"transform":[{"filter":"datum.c=='B4t'"}],"mark":"bar","encoding":{"x":{"field":"b","type":"quantitative","bin":{"binned":true,"step":1},"scale":{"domain":[0,51.54]},"axis":null},"y":{"field":"n","type":"quantitative","scale":{"domain":[-80,100]},"axis":null}}},
 {"mark":"rule","encoding":{"x":{"datum":0},"y":{"datum":0},"y2":{"datum":100}}},
 {"mark":"rule","encoding":{"x":{"datum":0},"x2":{"datum":30},"y":{"datum":0}}},
 {"mark":"rule","encoding":{"x":{"datum":5.4},"y":{"datum":100},"y2":{"datum":-75}}},
 {"mark":{"type":"text","text":"diff. carr. freq."},"encoding":{"x":{"datum":15},"y":{"datum":-31.5}}}]},
 {"layer":[{"data":{"name":"sine"},"mark":{"type":"line","interpolate":"monotone"},"encoding":{"x":{"field":"x","type":"quantitative"},"y":{"field":"s","type":"quantitative","scale":{"domain":[-1.46,11.07]},"axis":null}}},{"mark":{"type":"rule","strokeDash":[4,2]},"encoding":{"x":{"datum":0},"x2":{"datum":30},"y":{"datum":-0.22}}}]}
],"resolve":{"scale":{"y":"independent"}}},
{"width":150,"height":84,"layer":[{"layer":[
 {"data":{"name":"h"},"transform":[{"filter":"datum.c=='D3h'"}],"mark":"bar","encoding":{"x":{"field":"b","type":"quantitative","bin":{"binned":true,"step":1},"scale":{"domain":[0,38.46]},"axis":null},"y":{"field":"n","type":"quantitative","scale":{"domain":[-80,100]},"axis":null}}},
 {"mark":"rule","encoding":{"x":{"datum":0},"y":{"datum":0},"y2":{"datum":100}}},
 {"mark":"rule","encoding":{"x":{"datum":0},"x2":{"datum":30},"y":{"datum":0}}},
 {"mark":"rule","encoding":{"x":{"datum":12.8},"y":{"datum":100},"y2":{"datum":-44.3}}},
 {"mark":{"type":"text","text":"diff. carr. freq."},"encoding":{"x":{"datum":15},"y":{"datum":-65.8}}}]},
 {"layer":[{"data":{"name":"sine"},"mark":{"type":"line","interpolate":"monotone"},"encoding":{"x":{"field":"x","type":"quantitative"},"y":{"field":"s","type":"quantitative","scale":{"domain":[-3.90,8.64]},"axis":null}}},{"mark":{"type":"rule","strokeDash":[4,2]},"encoding":{"x":{"datum":0},"x2":{"datum":30},"y":{"datum":-0.22}}}]}
],"resolve":{"scale":{"y":"independent"}}},
{"width":117,"height":84,"layer":[{"layer":[
 {"data":{"name":"h"},"transform":[{"filter":"datum.c=='D3t'"}],"mark":"bar","encoding":{"x":{"field":"b","type":"quantitative","bin":{"binned":true,"step":1},"scale":{"domain":[0,30]},"axis":null},"y":{"field":"n","type":"quantitative","scale":{"domain":[-80,100]},"axis":null}}},
 {"mark":"rule","encoding":{"x":{"datum":0},"y":{"datum":0},"y2":{"datum":100}}},
 {"mark":"rule","encoding":{"x":{"datum":0},"x2":{"datum":30},"y":{"datum":0}}},
 {"mark":"rule","encoding":{"x":{"datum":4.95},"y":{"datum":100},"y2":{"datum":-76.5}}},
 {"mark":{"type":"text","text":"diff. carr. freq."},"encoding":{"x":{"datum":15},"y":{"datum":-33.6}}}]},
 {"layer":[{"data":{"name":"sine"},"mark":{"type":"line","interpolate":"monotone"},"encoding":{"x":{"field":"x","type":"quantitative"},"y":{"field":"s","type":"quantitative","scale":{"domain":[-1.61,10.93]},"axis":null}}},{"mark":{"type":"rule","strokeDash":[4,2]},"encoding":{"x":{"datum":0},"x2":{"datum":30},"y":{"datum":-0.22}}}]}
],"resolve":{"scale":{"y":"independent"}}}
],
"config":{
 "view":{"stroke":null},
 "axis":{"disable":true,"domain":false,"ticks":false,"labels":false,"grid":false,"titleOpacity":0},
 "bar":{"color":"black","binSpacing":0},
 "rule":{"color":"#222","strokeWidth":1},
 "line":{"color":"black","strokeWidth":1},
 "text":{"font":"Liberation Serif","fontSize":13,"baseline":"alphabetic","align":"center","color":"black"}
}
}
